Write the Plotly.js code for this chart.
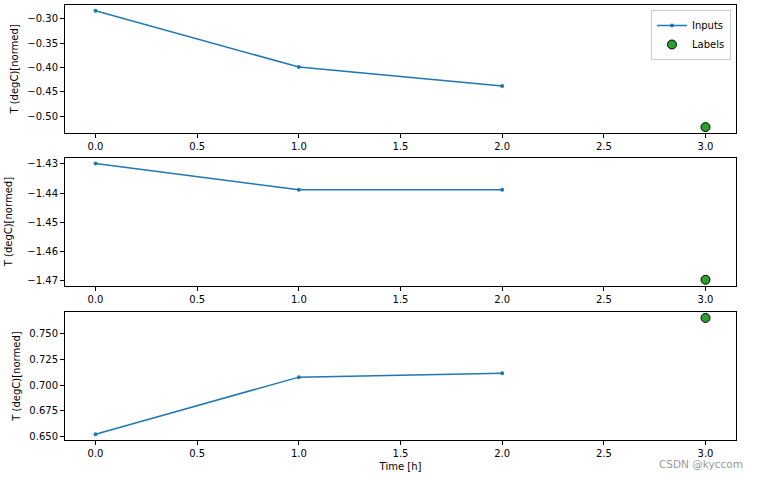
<!DOCTYPE html>
<html>
<head>
<meta charset="utf-8">
<script src="https://cdn.plot.ly/plotly-3.0.1.min.js"></script>
<style>html,body{margin:0;padding:0;background:#fff;}#chart{width:760px;height:480px;}</style>
</head>
<body>
<div id="chart"></div>
<script>
// Data
const inputTime = [0, 1, 2];
const labelTime = [3];
const inputs1 = [-0.2835, -0.399, -0.438];
const labels1 = [-0.5223];
const inputs2 = [-1.4299, -1.4389, -1.4389];
const labels2 = [-1.4697];
const inputs3 = [0.652, 0.7078, 0.7117];
const labels3 = [0.7657];
const xTicks = [0, 0.5, 1, 1.5, 2, 2.5, 3];
const yTicks1 = [-0.30, -0.35, -0.40, -0.45, -0.50];
const yTicks2 = [-1.43, -1.44, -1.45, -1.46, -1.47];
const yTicks3 = [0.650, 0.675, 0.700, 0.725, 0.750];

const blue = '#1f77b4', green = '#2ca02c';
const font = {family: 'DejaVu Sans', size: 10, color: '#000'};

function inTrace(y, xa, ya, show) {
  return {x: inputTime, y: y, xaxis: xa, yaxis: ya, type: 'scatter', mode: 'lines+markers',
    name: 'Inputs', showlegend: show, line: {color: blue, width: 1.5}, marker: {color: blue, size: 4}};
}
function lbTrace(y, xa, ya, show) {
  return {x: labelTime, y: y, xaxis: xa, yaxis: ya, type: 'scatter', mode: 'markers',
    name: 'Labels', showlegend: show, marker: {color: green, size: 9, line: {color: '#000', width: 1}}};
}
const data = [
  inTrace(inputs1, 'x', 'y', true), lbTrace(labels1, 'x', 'y', true),
  inTrace(inputs2, 'x2', 'y2', false), lbTrace(labels2, 'x2', 'y2', false),
  inTrace(inputs3, 'x3', 'y3', false), lbTrace(labels3, 'x3', 'y3', false)
];

function xax(anchor, title) {
  const a = {anchor: anchor, range: [-0.15, 3.15], tickvals: xTicks, tickformat: '.1f',
    showline: true, mirror: true, linecolor: '#000', linewidth: 1, showgrid: false, zeroline: false,
    ticks: 'outside', ticklen: 4, tickcolor: '#000', tickfont: font};
  if (title) a.title = {text: title, font: font, standoff: 4};
  return a;
}
function yax(anchor, domain, range, vals, fmt, standoff) {
  return {anchor: anchor, domain: domain, range: range, tickmode: 'array', tickvals: vals, tickformat: fmt,
    showline: true, mirror: true, linecolor: '#000', linewidth: 1, showgrid: false, zeroline: false,
    ticks: 'outside', ticklen: 4, tickcolor: '#000', tickfont: font,
    title: {text: 'T (degC)[normed]', font: font, standoff: standoff}};
}

const layout = {
  width: 760, height: 480,
  margin: {l: 65, r: 24, t: 5, b: 40},
  paper_bgcolor: '#fff', plot_bgcolor: '#fff',
  font: font,
  showlegend: true,
  legend: {x: 0.9925, y: 0.9885, xanchor: 'right', yanchor: 'top', bgcolor: 'rgba(255,255,255,0.8)',
    bordercolor: '#ccc', borderwidth: 1, font: font, tracegroupgap: 0},
  xaxis: xax('y'), xaxis2: xax('y2'), xaxis3: xax('y3', 'Time [h]'),
  yaxis: yax('x', [0.706, 1], [-0.5342, -0.2716], yTicks1, '.2f', 6),
  yaxis2: yax('x2', [0.355, 0.649], [-1.4717, -1.4279], yTicks2, '.2f', 12),
  yaxis3: yax('x3', [0, 0.294], [0.6463, 0.7714], yTicks3, '.3f', 6),
  annotations: [{text: 'CSDN @kyccom', xref: 'paper', yref: 'paper', x: 1.0134, y: -0.055,
    xanchor: 'right', yanchor: 'middle', showarrow: false,
    font: {family: 'DejaVu Sans', size: 10.5, color: '#999'}}]
};
Plotly.newPlot('chart', data, layout, {displayModeBar: false, staticPlot: true});
</script>
</body>
</html>
